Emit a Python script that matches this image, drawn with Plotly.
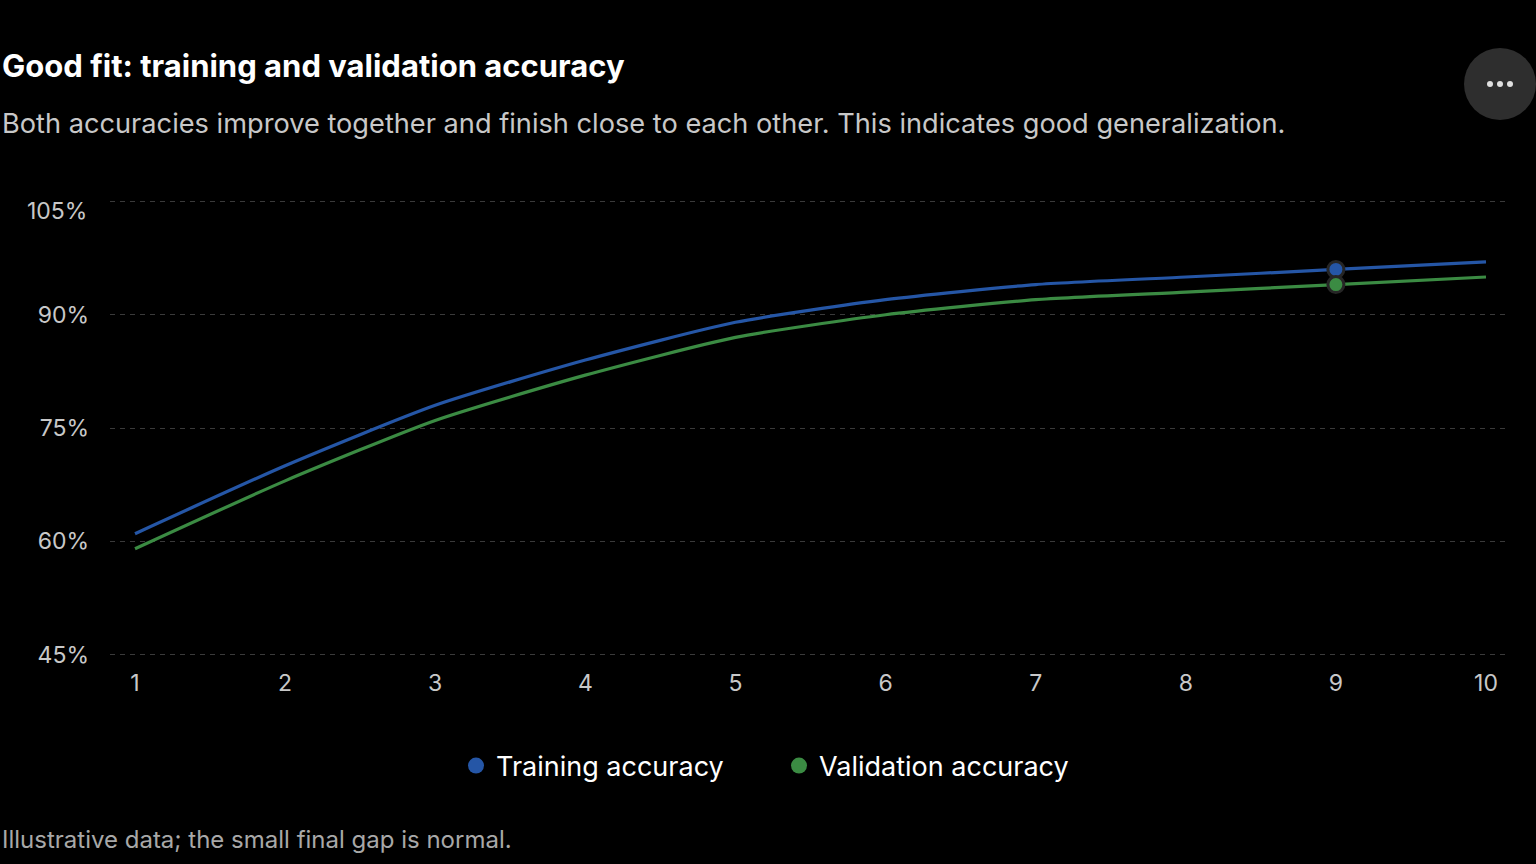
import plotly.graph_objects as go

# Epochs and accuracy (%)
EPOCHS = [1, 2, 3, 4, 5, 6, 7, 8, 9, 10]
TRAIN_ACC = [61, 70, 78, 84, 89, 92, 94, 95, 96, 97]
VAL_ACC = [59, 68, 76, 82, 87, 90, 92, 93, 94, 95]
HOVER_EPOCH = 9

Y_TICKS = [45, 60, 75, 90, 105]
Y_TICK_TEXT = ["45%", "60%", "75%", "90%", "105%"]

BLUE = "#2556a6"
GREEN = "#3b8b43"
FONT = "Inter, Roboto, sans-serif"

# plot area in pixels (for placing text outside it)
W, H = 1536, 864
L, R, T, B = 110, 28, 200, 208
PW, PH = W - L - R, H - T - B


def px_x(x):
    return (x - L) / PW


def px_y(y):
    return (H - B - y) / PH


fig = go.Figure()

for name, ys, color in [
    ("Training accuracy", TRAIN_ACC, BLUE),
    ("Validation accuracy", VAL_ACC, GREEN),
]:
    fig.add_trace(
        go.Scatter(
            x=EPOCHS,
            y=ys,
            mode="lines",
            line=dict(color=color, width=3.2, shape="spline", smoothing=0.6),
            showlegend=False,
            hoverinfo="skip",
        )
    )
    i = EPOCHS.index(HOVER_EPOCH)
    fig.add_trace(
        go.Scatter(
            x=[EPOCHS[i]],
            y=[ys[i]],
            mode="markers",
            marker=dict(color=color, size=16, line=dict(color="#262626", width=3)),
            showlegend=False,
            hoverinfo="skip",
        )
    )
    # legend entry: plain circle
    fig.add_trace(
        go.Scatter(
            x=[None],
            y=[None],
            mode="markers",
            name=name,
            marker=dict(color=color, size=20),
        )
    )

# the top label sits a little below its gridline in the reference,
# so it is drawn as an annotation instead of a tick label
tick_text = [t if v != Y_TICKS[-1] else "" for v, t in zip(Y_TICKS, Y_TICK_TEXT)]

fig.update_xaxes(
    range=[1 - 25 / 150.1, 10 + 22 / 150.1],
    tickvals=EPOCHS,
    showgrid=False,
    zeroline=False,
    showline=False,
    ticks="",
    ticklabelstandoff=11,
    tickfont=dict(size=23, color="#c8c8c8", family=FONT),
)
fig.update_yaxes(
    range=[44.8, 105.2],
    tickvals=Y_TICKS,
    ticktext=tick_text,
    showgrid=True,
    gridcolor="#3a3a3a",
    griddash="5px,5px",
    gridwidth=1,
    zeroline=False,
    showline=False,
    ticks="",
    ticklabelstandoff=20,
    tickfont=dict(size=23, color="#c8c8c8", family=FONT),
)

fig.add_annotation(
    text=Y_TICK_TEXT[-1],
    xref="paper", yref="paper", x=px_x(89), y=px_y(211),
    xanchor="right", yanchor="middle", showarrow=False,
    font=dict(size=23, color="#c8c8c8", family=FONT),
)
fig.add_annotation(
    text="<b>Good fit: training and validation accuracy</b>",
    xref="paper", yref="paper", x=px_x(0), y=px_y(65),
    xanchor="left", yanchor="middle", showarrow=False,
    font=dict(size=31, color="#ffffff", family=FONT),
)
fig.add_annotation(
    text="Both accuracies improve together and finish close to each other. This indicates good generalization.",
    xref="paper", yref="paper", x=px_x(0), y=px_y(124),
    xanchor="left", yanchor="middle", showarrow=False,
    font=dict(size=27.2, color="#c8c8c8", family=FONT),
)
fig.add_annotation(
    text="Illustrative data; the small final gap is normal.",
    xref="paper", yref="paper", x=px_x(0), y=px_y(839),
    xanchor="left", yanchor="middle", showarrow=False,
    font=dict(size=24, color="#a8a8a8", family=FONT),
)

# "..." menu button in the corner
fig.add_shape(
    type="circle", xref="paper", yref="paper",
    x0=px_x(1464), x1=px_x(1536), y0=px_y(120), y1=px_y(48),
    fillcolor="#2e2e2e", line=dict(width=0),
)
for cx in [1490, 1500, 1510]:
    fig.add_shape(
        type="circle", xref="paper", yref="paper",
        x0=px_x(cx - 3), x1=px_x(cx + 3), y0=px_y(87), y1=px_y(81),
        fillcolor="#e0e0e0", line=dict(width=0),
    )

fig.update_layout(
    width=W,
    height=H,
    margin=dict(l=L, r=R, t=T, b=B),
    paper_bgcolor="#000000",
    plot_bgcolor="#000000",
    font=dict(family=FONT, color="#ffffff"),
    showlegend=True,
    legend=dict(
        orientation="h",
        x=px_x(779), y=px_y(766),
        xanchor="center", yanchor="middle",
        font=dict(size=27, color="#ffffff", family=FONT),
        itemwidth=30,
        entrywidth=278,
        bgcolor="rgba(0,0,0,0)",
    ),
)

fig.write_html(
    "out.html",
    config={"displayModeBar": False},
    post_script="document.body.style.margin='0';document.body.style.background='#000';",
)
